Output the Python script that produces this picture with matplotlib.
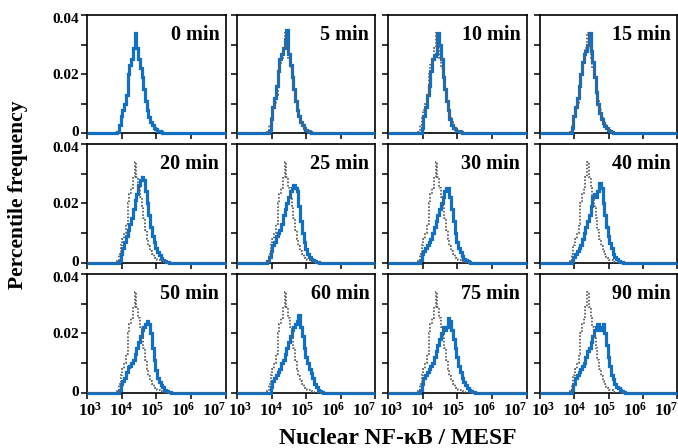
import numpy as np
import matplotlib
matplotlib.use("Agg")
import matplotlib.pyplot as plt
import matplotlib.transforms as mtransforms
from matplotlib.ticker import FixedLocator, LogLocator, NullFormatter

plt.rcParams['font.family'] = ['Liberation Serif', 'DejaVu Serif']
plt.rcParams['font.weight'] = 'bold'
plt.rcParams['mathtext.fontset'] = 'custom'
plt.rcParams['mathtext.rm'] = 'Liberation Serif:bold'
plt.rcParams['mathtext.bf'] = 'Liberation Serif:bold'
plt.rcParams['mathtext.it'] = 'Liberation Serif:bold'

# log10 bin centres of nuclear NF-kB (MESF)
log_centres = [3.80, 3.85, 3.90, 3.95, 4.00, 4.05, 4.10, 4.15, 4.20, 4.25,
               4.30, 4.35, 4.40, 4.45, 4.50, 4.55, 4.60, 4.65, 4.70, 4.75,
               4.80, 4.85, 4.90, 4.95, 5.00, 5.05, 5.10, 5.15, 5.20, 5.25,
               5.30, 5.35, 5.40, 5.45, 5.50, 5.55, 5.60]

titles = ["0 min", "5 min", "10 min", "15 min",
          "20 min", "25 min", "30 min", "40 min",
          "50 min", "60 min", "75 min", "90 min"]

# unstimulated control (gray dotted)
control = [0, 0, 0.0005, 0.003, 0.006, 0.008, 0.010, 0.013, 0.020, 0.023,
           0.025, 0.029, 0.034, 0.029, 0.025, 0.022, 0.019, 0.015, 0.011, 0.008,
           0.0055, 0.004, 0.003, 0.002, 0.0015, 0.001, 0.0008, 0.0004, 0.0002, 0,
           0, 0, 0, 0, 0, 0, 0]

t0 = control
t5 = [0, 0, 0, 0.001, 0.005, 0.009, 0.012, 0.016, 0.021, 0.025,
      0.027, 0.029, 0.032, 0.035, 0.027, 0.023, 0.019, 0.015, 0.011, 0.008,
      0.006, 0.004, 0.003, 0.002, 0.0012, 0.0008, 0.0005, 0.0003, 0.0002, 0,
      0, 0, 0, 0, 0, 0, 0]
t10 = [0, 0, 0, 0, 0.002, 0.006, 0.009, 0.013, 0.016, 0.021,
       0.025, 0.026, 0.027, 0.034, 0.030, 0.025, 0.019, 0.015, 0.011, 0.008,
       0.005, 0.003, 0.002, 0.0015, 0.001, 0.0007, 0.0004, 0.0002, 0, 0,
       0, 0, 0, 0, 0, 0, 0]
t15 = [0, 0, 0, 0.002, 0.006, 0.009, 0.012, 0.016, 0.020, 0.024,
       0.027, 0.028, 0.030, 0.034, 0.028, 0.024, 0.019, 0.014, 0.010, 0.007,
       0.005, 0.0035, 0.0025, 0.0018, 0.0012, 0.0008, 0.0005, 0.0003, 0.0001, 0,
       0, 0, 0, 0, 0, 0, 0]
t20 = [0, 0, 0, 0.0005, 0.003, 0.005, 0.007, 0.009, 0.011, 0.013,
       0.015, 0.018, 0.021, 0.023, 0.026, 0.028, 0.029, 0.028, 0.024, 0.020,
       0.016, 0.012, 0.009, 0.007, 0.005, 0.0035, 0.0025, 0.0015, 0.001, 0.0006,
       0.0003, 0.0002, 0, 0, 0, 0, 0]
t25 = [0, 0, 0.0005, 0.002, 0.004, 0.006, 0.007, 0.009, 0.010, 0.011,
       0.013, 0.016, 0.018, 0.020, 0.022, 0.024, 0.025, 0.026, 0.025, 0.024,
       0.019, 0.014, 0.010, 0.007, 0.0045, 0.003, 0.002, 0.0013, 0.0008, 0.0005,
       0.0003, 0.0001, 0, 0, 0, 0, 0]
t30 = [0, 0, 0, 0.001, 0.003, 0.004, 0.005, 0.006, 0.007, 0.008,
       0.010, 0.012, 0.014, 0.016, 0.018, 0.020, 0.022, 0.024, 0.025, 0.025,
       0.022, 0.018, 0.014, 0.010, 0.007, 0.005, 0.0035, 0.0022, 0.0013, 0.0008,
       0.0004, 0.0002, 0, 0, 0, 0, 0]
t40 = [0, 0, 0, 0.0005, 0.002, 0.003, 0.004, 0.005, 0.006, 0.008,
       0.010, 0.012, 0.014, 0.016, 0.019, 0.022, 0.023, 0.022, 0.024, 0.027,
       0.025, 0.020, 0.016, 0.012, 0.009, 0.0065, 0.0048, 0.003, 0.002, 0.0012,
       0.0006, 0.0003, 0.0001, 0, 0, 0, 0]
t50 = [0, 0, 0, 0.001, 0.003, 0.004, 0.005, 0.007, 0.0085, 0.009,
       0.010, 0.011, 0.013, 0.015, 0.017, 0.019, 0.021, 0.022, 0.023, 0.024,
       0.023, 0.020, 0.015, 0.011, 0.0075, 0.005, 0.0035, 0.0025, 0.0018, 0.001,
       0.0006, 0.0003, 0.0001, 0, 0, 0, 0]
t60 = [0, 0, 0, 0, 0.002, 0.004, 0.005, 0.006, 0.007, 0.008,
       0.010, 0.011, 0.013, 0.015, 0.017, 0.019, 0.021, 0.022, 0.023, 0.024,
       0.026, 0.022, 0.019, 0.015, 0.012, 0.010, 0.008, 0.0065, 0.005, 0.003,
       0.002, 0.001, 0.0005, 0.0002, 0, 0, 0]
t75 = [0, 0, 0, 0.001, 0.003, 0.005, 0.006, 0.007, 0.008, 0.009,
       0.010, 0.012, 0.014, 0.016, 0.018, 0.020, 0.022, 0.021, 0.022, 0.025,
       0.024, 0.021, 0.018, 0.015, 0.012, 0.009, 0.007, 0.005, 0.0035, 0.0024,
       0.0015, 0.001, 0.0006, 0.0003, 0.0001, 0, 0]
t90 = [0, 0, 0, 0.001, 0.003, 0.005, 0.006, 0.007, 0.008, 0.009,
       0.010, 0.012, 0.014, 0.015, 0.017, 0.019, 0.021, 0.022, 0.023, 0.021,
       0.022, 0.023, 0.020, 0.016, 0.012, 0.009, 0.006, 0.0045, 0.003, 0.002,
       0.0015, 0.001, 0.0005, 0.0002, 0, 0, 0]

series = [t0, t5, t10, t15, t20, t25, t30, t40, t50, t60, t75, t90]

x_ticklabels = [r'$\mathbf{10^{3}}$', r'$\mathbf{10^{4}}$', r'$\mathbf{10^{5}}$',
                r'$\mathbf{10^{6}}$', r'$\mathbf{10^{7}}$']
y_ticklabels = ['0', '0.02', '0.04']

BLUE = '#0f70c6'
GRAY = '#5e5e5e'

W, H = 678, 448
fig = plt.figure(figsize=(W / 100, H / 100), dpi=100)

col_left = [87, 237, 388, 540]
row_top = [15, 144, 274]
pw, ph = 138.5, 118.5

# nudges (px) of tick labels, packed inward as in the reference
x_label_shift = [3, 0, -4, -8, -11]
y_label_shift = [2, 0, -3]

xmin, xmax = 1e3, 1e7
half = 0.025
lc = np.array(log_centres)
edges_log = np.concatenate([[3.0], lc - half, [lc[-1] + half, 7.0]])
edges = 10 ** edges_log


def padded(v):
    return np.concatenate([[0.0], np.asarray(v, float), [0.0]])


for k, (vals, title) in enumerate(zip(series, titles)):
    r, c = divmod(k, 4)
    w = pw if c < 3 else 137.0
    ax = fig.add_axes([col_left[c] / W, 1 - (row_top[r] + ph) / H, w / W, ph / H])
    ax.set_xscale('log')
    ax.set_xlim(xmin, xmax)
    ax.set_ylim(0, 0.04)
    ax.stairs(padded(vals), edges, color=BLUE, lw=2.3, zorder=3, clip_on=False)
    if k > 0:
        ax.stairs(padded(control), edges, color=GRAY, lw=1.3,
                  linestyle=(0, (0.9, 1.0)), zorder=4)
    ax.text(0.955, 0.915, title, transform=ax.transAxes, ha='right', va='top',
            fontsize=14.5, fontweight='bold')
    for s in ax.spines.values():
        s.set_linewidth(1.2)
    ax.xaxis.set_major_locator(FixedLocator([1e3, 1e4, 1e5, 1e6, 1e7]))
    ax.xaxis.set_minor_locator(LogLocator(base=10, subs=np.arange(2, 10)))
    ax.xaxis.set_minor_formatter(NullFormatter())
    ax.yaxis.set_major_locator(FixedLocator([0, 0.02, 0.04]))
    ax.yaxis.set_minor_locator(FixedLocator([0.01, 0.03]))
    ax.tick_params(axis='both', which='major', direction='out', length=4, width=1.1)
    ax.tick_params(axis='both', which='minor', direction='out', length=2.5, width=0.9)
    ax.tick_params(axis='y', which='minor', length=4, width=1.1)
    if r == 2:
        ax.set_xticklabels(x_ticklabels, fontsize=12)
        ax.tick_params(axis='x', pad=3)
        for lab, dx in zip(ax.get_xticklabels(), x_label_shift):
            lab.set_transform(lab.get_transform() +
                              mtransforms.ScaledTranslation(dx / 100, 0, fig.dpi_scale_trans))
    else:
        ax.set_xticklabels([])
    if c == 0:
        ax.set_yticklabels(y_ticklabels, fontsize=11, fontweight='bold')
        ax.tick_params(axis='y', pad=1.5)
        for lab, dy in zip(ax.get_yticklabels(), y_label_shift):
            lab.set_transform(lab.get_transform() +
                              mtransforms.ScaledTranslation(0, dy / 100, fig.dpi_scale_trans))
    else:
        ax.set_yticklabels([])

fig.text(18 / W, 1 - 195 / H, 'Percentile frequency', rotation=90,
         ha='center', va='center', fontsize=15.5, fontweight='bold')
fig.text(398 / W, 1 - 438 / H, 'Nuclear NF-κB / MESF',
         ha='center', va='center', fontsize=17, fontweight='bold')

fig.savefig('out.png', dpi=100)
